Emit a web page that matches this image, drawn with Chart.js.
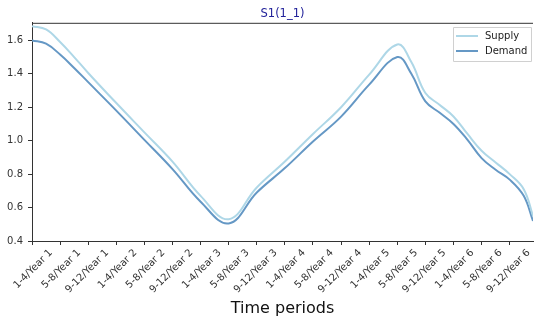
<!DOCTYPE html>
<html>
<head>
<meta charset="utf-8">
<script src="https://cdn.jsdelivr.net/npm/chart.js@4"></script>
<style>
  html, body { margin: 0; padding: 0; background: #fff; }
  #wrap { width: 534px; height: 324px; position: relative; }
</style>
</head>
<body>
<div id="wrap"><canvas id="c" width="534" height="324"></canvas></div>
<script>
const periodLabels = ["1-4/Year 1","5-8/Year 1","9-12/Year 1","1-4/Year 2","5-8/Year 2","9-12/Year 2",
  "1-4/Year 3","5-8/Year 3","9-12/Year 3","1-4/Year 4","5-8/Year 4","9-12/Year 4",
  "1-4/Year 5","5-8/Year 5","9-12/Year 5","1-4/Year 6","5-8/Year 6","9-12/Year 6"];
const xPositions   = [0, 0.5, 1, 1.5, 2, 3, 4, 5, 6, 7, 8, 9, 10, 11, 12, 13, 13.5, 14, 14.5, 15, 15.5, 16, 16.5, 17, 17.5, 17.83];
const supplyValues = [1.685,1.665,1.59,1.50,1.405,1.225,1.05,0.875,0.67,0.53,0.72,0.875,1.04,1.20,1.395,1.575,1.47,1.285,1.215,1.145,1.04,0.94,0.87,0.80,0.71,0.55];
const demandValues = [1.60,1.58,1.515,1.435,1.35,1.18,1.005,0.83,0.635,0.505,0.69,0.836,0.995,1.144,1.335,1.50,1.40,1.235,1.168,1.10,1.005,0.896,0.826,0.767,0.67,0.52];
const yTickValues = [0.4,0.6,0.8,1.0,1.2,1.4,1.6];
const seriesNames = ["Supply","Demand"];
const seriesColors = ["#aed7e7","#6598c5"];

const toPts = (vals) => vals.map((v, i) => ({x: xPositions[i], y: v}));

const frame = {
  id: 'frame',
  afterDraw(chart) {
    const ctx = chart.ctx, a = chart.chartArea;
    ctx.save();
    ctx.strokeStyle = '#333';
    ctx.lineWidth = 1;
    ctx.beginPath();
    ctx.moveTo(a.left, a.top + 0.5);
    ctx.lineTo(a.right, a.top + 0.5);
    ctx.stroke();
    // legend box (top-right inside the plot)
    const bx = 453, by = 27, bw = 78, bh = 34;
    ctx.fillStyle = 'rgba(255,255,255,0.85)';
    ctx.strokeStyle = '#d0d0d0';
    ctx.beginPath();
    ctx.rect(bx + 0.5, by + 0.5, bw, bh);
    ctx.fill(); ctx.stroke();
    ctx.font = '10px "DejaVu Sans"';
    ctx.textBaseline = 'middle';
    chart.data.datasets.forEach((ds, i) => {
      const y = by + 9 + i * 15;
      ctx.strokeStyle = ds.borderColor;
      ctx.lineWidth = 2;
      ctx.beginPath();
      ctx.moveTo(bx + 3, y); ctx.lineTo(bx + 25, y); ctx.stroke();
      ctx.fillStyle = '#222';
      ctx.fillText(ds.label, bx + 32, y);
    });
    ctx.restore();
  }
};

new Chart(document.getElementById('c'), {
  type: 'line',
  data: {
    datasets: [
      {label: seriesNames[0], data: toPts(supplyValues), borderColor: seriesColors[0], borderWidth: 2,
       pointRadius: 0, tension: 0.4, fill: false},
      {label: seriesNames[1], data: toPts(demandValues), borderColor: seriesColors[1], borderWidth: 2,
       pointRadius: 0, tension: 0.4, fill: false}
    ]
  },
  options: {
    responsive: false,
    animation: false,
    layout: {padding: {left: 0, right: 1, top: 0, bottom: 0}},
    plugins: {
      legend: {display: false},
      tooltip: {enabled: false},
      title: {display: true, text: 'S1(1_1)', color: '#22229a', fullSize: false,
              font: {family: 'DejaVu Sans', size: 11.5, weight: 'normal'},
              padding: {top: 7, bottom: 2}}
    },
    scales: {
      x: {
        type: 'linear', min: 0, max: 17.83,
        afterBuildTicks: (s) => { s.ticks = periodLabels.map((_, i) => ({value: i})); },
        afterFit: (s) => { s.height = 83; s.paddingLeft = 0; s.paddingRight = 0; },
        ticks: {autoSkip: false, minRotation: 45, maxRotation: 45, padding: 2, labelOffset: 19,
                color: '#333', font: {family: 'DejaVu Sans', size: 10},
                callback: (v) => periodLabels[v]},
        grid: {display: true, drawOnChartArea: false, drawTicks: true, tickLength: 4, color: '#333'},
        border: {display: true, color: '#333'},
        title: {display: true, text: 'Time periods', color: '#111',
                font: {family: 'DejaVu Sans', size: 16}, padding: {top: 0, bottom: 6}}
      },
      y: {
        min: 0.4, max: 1.705,
        afterBuildTicks: (s) => { s.ticks = yTickValues.map(v => ({value: v})); },
        afterFit: (s) => { s.width = 32; },
        ticks: {padding: 5, color: '#333', font: {family: 'DejaVu Sans', size: 10},
                callback: (v) => Number(v).toFixed(1)},
        grid: {display: true, drawOnChartArea: false, drawTicks: true, tickLength: 4, color: '#333'},
        border: {display: true, color: '#333'}
      }
    }
  },
  plugins: [frame]
});
</script>
</body>
</html>
